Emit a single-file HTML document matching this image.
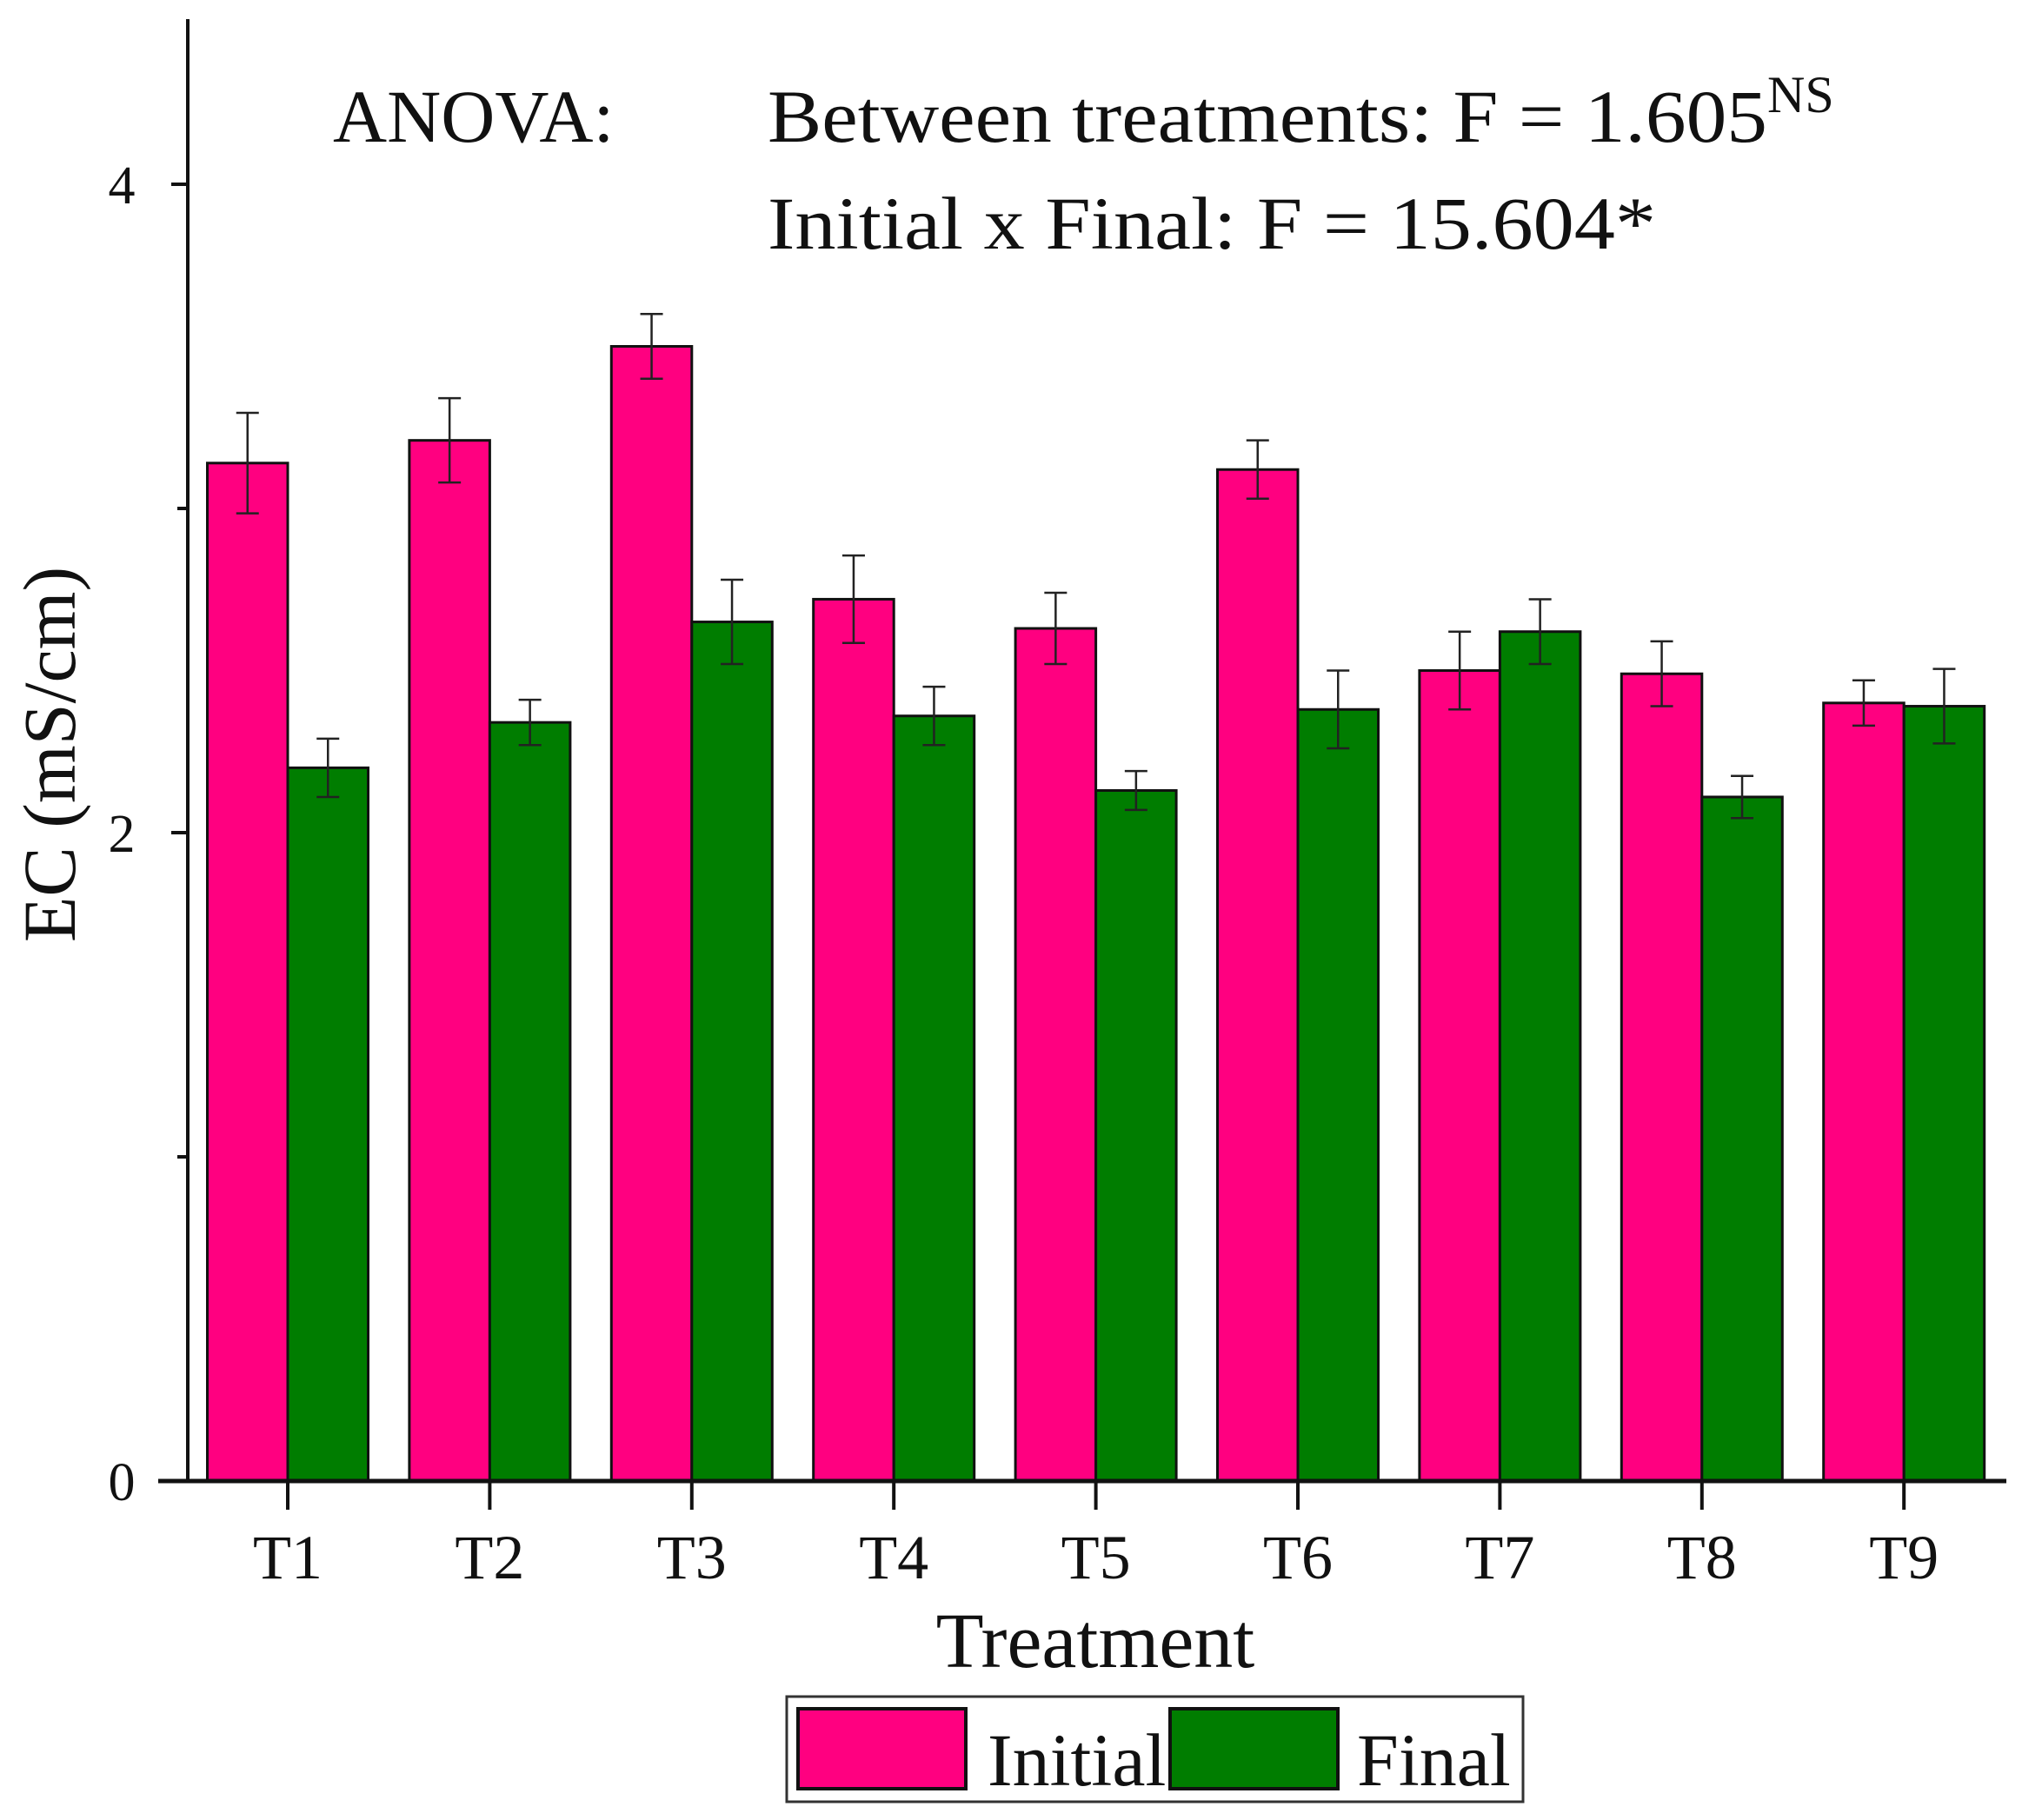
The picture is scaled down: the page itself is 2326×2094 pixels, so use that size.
<!DOCTYPE html>
<html><head><meta charset="utf-8"><style>
html,body{margin:0;padding:0;background:#fff}
svg{display:block}
text{font-family:"Liberation Serif",serif;fill:#111}
</style></head><body>
<svg id="chart" width="2326" height="2094" viewBox="0 0 2326 2094" xmlns="http://www.w3.org/2000/svg">
<text x="383" y="163" font-size="86">ANOVA:</text>
<text x="883" y="163" font-size="86"><tspan textLength="1150" lengthAdjust="spacingAndGlyphs">Between treatments:  F = 1.605</tspan><tspan font-size="60" dy="-34">NS</tspan></text>
<text x="883" y="286" font-size="86" textLength="1022" lengthAdjust="spacingAndGlyphs">Initial x Final:  F = 15.604*</text>
<text transform="translate(86,868) rotate(-90)" text-anchor="middle" font-size="86">EC (mS/cm)</text>
<text x="1260" y="1918" text-anchor="middle" font-size="90">Treatment</text>
<g id="bars"></g>
<g id="axes"></g>
<g>
<rect x="905" y="1952" width="847" height="121" fill="#fff" stroke="#333" stroke-width="3"/>
<rect x="918" y="1966" width="193" height="92" fill="#ff0080" stroke="#111" stroke-width="4"/>
<text x="1136" y="2054" font-size="86">Initial</text>
<rect x="1346" y="1966" width="193" height="92" fill="#007d00" stroke="#111" stroke-width="4"/>
<text x="1561" y="2054" font-size="86">Final</text>
</g>
</svg>
<script>
const categories=["T1","T2","T3","T4","T5","T6","T7","T8","T9"];
const initialValues=[3.14,3.21,3.50,2.72,2.63,3.12,2.50,2.49,2.40];
const initialErrors=[0.155,0.13,0.10,0.135,0.11,0.09,0.12,0.10,0.07];
const finalValues=[2.20,2.34,2.65,2.36,2.13,2.38,2.62,2.11,2.39];
const finalErrors=[0.09,0.07,0.13,0.09,0.06,0.12,0.10,0.065,0.115];
const yTicks=[0,2,4];
const yMinorTicks=[1,3];

const NS="http://www.w3.org/2000/svg";
const y0=1704, pxPerUnit=373;
const yScale=v=>y0-v*pxPerUnit;
const x0=331, step=232.4, bw=92.5;
const xScale=i=>x0+i*step;
function mk(tag,attrs,parent){const e=document.createElementNS(NS,tag);for(const k in attrs)e.setAttribute(k,attrs[k]);parent.appendChild(e);return e;}
const bars=document.getElementById('bars'), axes=document.getElementById('axes');

function drawSeries(vals,errs,offset,color,name){
  vals.forEach((v,i)=>{
    const x=xScale(i)+offset;
    const r=mk('rect',{x:x,y:yScale(v),width:bw,height:y0-yScale(v),fill:color,stroke:'#111','stroke-width':3},bars);
    
    
    const cx=x+bw/2, t=yScale(v+errs[i]), b=yScale(v-errs[i]);
    const g=mk('path',{d:`M${cx},${t}V${b}M${cx-13},${t}H${cx+13}M${cx-13},${b}H${cx+13}`,stroke:'#222','stroke-width':2.5,fill:'none'},bars);
    
    
  });
}
drawSeries(initialValues,initialErrors,-bw,'#ff0080','initial');
drawSeries(finalValues,finalErrors,0,'#007d00','final');

const ya=mk('line',{x1:216,y1:22,x2:216,y2:y0,stroke:'#111','stroke-width':4},axes);


const xa=mk('line',{x1:182,y1:y0,x2:2308,y2:y0,stroke:'#111','stroke-width':5},axes);


yTicks.forEach(v=>{
  mk('line',{x1:197,y1:yScale(v),x2:216,y2:yScale(v),stroke:'#111','stroke-width':4},axes);
  const t=mk('text',{x:140,y:yScale(v)+22,'text-anchor':'middle','font-size':62},axes);
  t.textContent=v;
  
  
});
yMinorTicks.forEach(v=>{
  mk('line',{x1:204,y1:yScale(v),x2:216,y2:yScale(v),stroke:'#111','stroke-width':4},axes);
});
categories.forEach((c,i)=>{
  mk('line',{x1:xScale(i),y1:y0,x2:xScale(i),y2:y0+33,stroke:'#111','stroke-width':4},axes);
  const t=mk('text',{x:xScale(i),y:1816,'text-anchor':'middle','font-size':72},axes);
  t.textContent=c;
  
  
});
</script>
</body></html>
